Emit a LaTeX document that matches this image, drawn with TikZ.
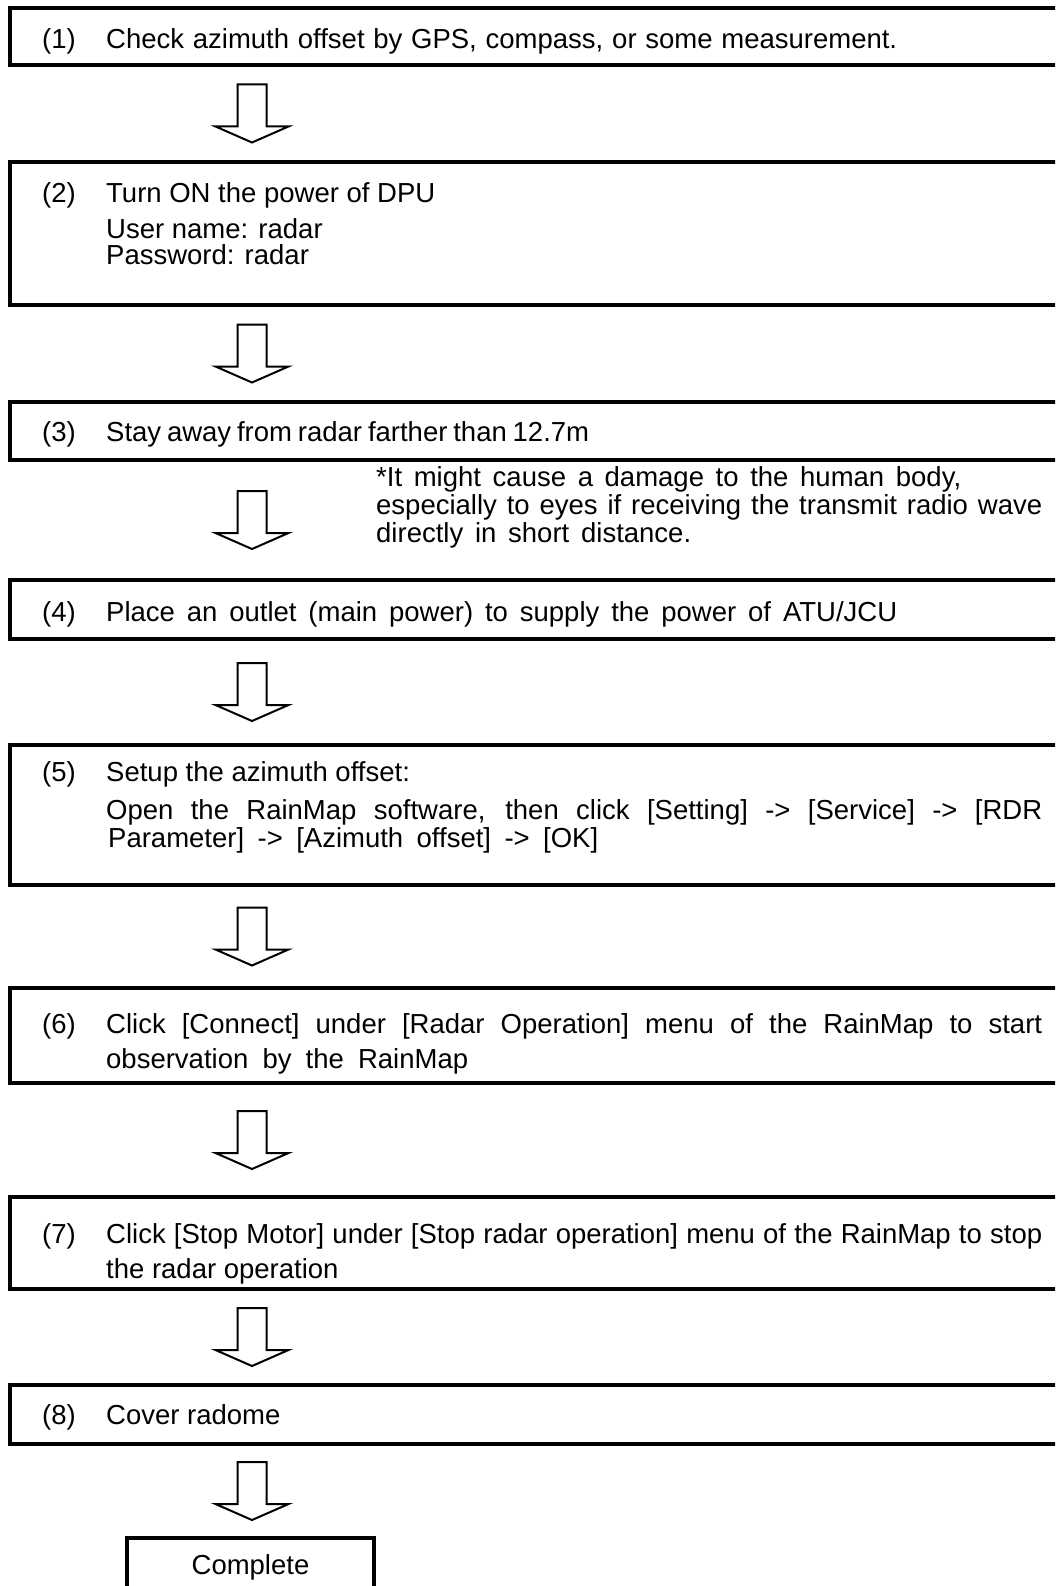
\documentclass[tikz,border=0pt]{standalone}
\usepackage{fontspec}
\setmainfont{Liberation Sans}
\usetikzlibrary{calc}
\newcommand{\flowfont}{\fontsize{27.5}{30}\selectfont}
\newcommand{\spreadline}[2]{\makebox[#1pt][s]{#2}}

\begin{document}
\begin{tikzpicture}[x=1pt, y=-1pt,
  stepbox/.style={draw, line width=4pt, minimum width=1100pt, anchor=north west, inner sep=0pt, outer sep=0pt},
  endbox/.style={draw, line width=4pt, minimum width=247pt, minimum height=58pt, inner sep=0pt, outer sep=0pt, font=\flowfont},
  num/.style={anchor=base west, inner sep=0pt, font=\flowfont},
  txt/.style={anchor=base west, inner sep=0pt, font=\flowfont},
  blockarrow/.pic={\draw[line width=2pt, line join=miter, fill=white] (-14.5,-29) -- (14.5,-29) -- (14.5,13) -- (36.5,13) -- (0,29) -- (-36.5,13) -- (-14.5,13) -- cycle;}
]
\useasboundingbox (0,0) rectangle (1055,1586);
\clip (0,0) rectangle (1055,1586);

% Step boxes (run off the right edge)
\foreach \i/\top/\h in {1/8/57,2/162/143,3/402/58,4/580/59,5/745/140,6/988/95,7/1197/92,8/1385/59}
  \node[stepbox, minimum height=\h pt] (b\i) at (10,\top) {};

% Final box
\node[endbox] (done) at (250.5,1567) {Complete};

% Step numbers
\foreach \i/\y in {1/49,2/203,3/441,4/621,5/781,6/1033,7/1243,8/1424}
  \node[num] (n\i) at (42,\y) {(\i)};

% Step texts
\node[txt] (t1) at (106,49) {\spreadline{791}{Check azimuth offset by GPS, compass, or some measurement.}};
\node[txt] (t2a) at (106,203) {Turn ON the power of DPU};
\node[txt] (t2b) at (106,239) {User name: radar};
\node[txt] (t2c) at (106,265) {Password: radar};
\node[txt] (t3) at (106,441) {\spreadline{483}{Stay away from radar farther than 12.7m}};
\node[txt] (t4) at (106,621) {\spreadline{791}{Place an outlet (main power) to supply the power of ATU/JCU}};
\node[txt] (t5a) at (106,781) {Setup the azimuth offset:};
\node[txt] (t5b) at (106,819) {\spreadline{936}{Open the RainMap software, then click [Setting] -> [Service] -> [RDR}};
\node[txt] (t5c) at (108,847) {\spreadline{490}{Parameter] -> [Azimuth offset] -> [OK]}};
\node[txt] (t6a) at (106,1033) {\spreadline{936}{Click [Connect] under [Radar Operation] menu of the RainMap to start}};
\node[txt] (t6b) at (106,1068) {\spreadline{362}{observation by the RainMap}};
\node[txt] (t7a) at (106,1243) {\spreadline{936}{Click [Stop Motor] under [Stop radar operation] menu of the RainMap to stop}};
\node[txt] (t7b) at (106,1278) {the radar operation};
\node[txt] (t8) at (106,1424) {Cover radome};

% Warning note
\node[txt] (note1) at (376,486) {\spreadline{585}{*It might cause a damage to the human body,}};
\node[txt] (note2) at (376,514) {\spreadline{666}{especially to eyes if receiving the transmit radio wave}};
\node[txt] (note3) at (376,542) {\spreadline{315}{directly in short distance.}};

% Hollow arrows between boxes
\coordinate (ax) at (252,0);
\foreach \a/\b in {b1/b2,b2/b3,b3/b4,b4/b5,b5/b6,b6/b7,b7/b8,b8/done} {
  \coordinate (m) at ($(\a.south)!0.5!(\b.north)$);
  \pic at (ax |- m) {blockarrow};
}
\end{tikzpicture}
\end{document}
